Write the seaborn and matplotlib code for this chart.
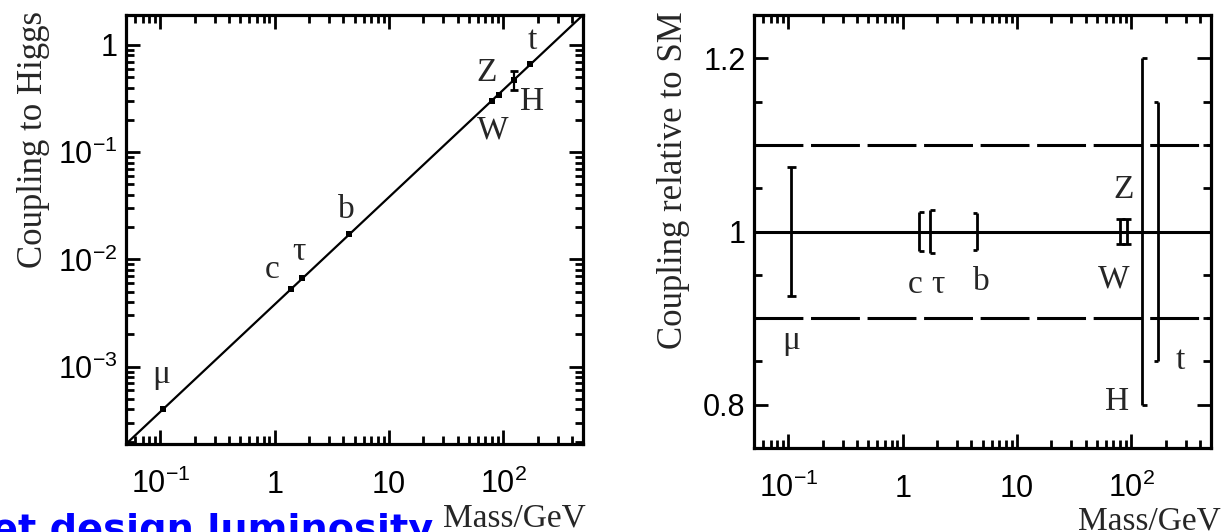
#!/usr/bin/env python3
import numpy as np
import seaborn as sns
import matplotlib.pyplot as plt
from matplotlib.ticker import FixedLocator, LogLocator, MultipleLocator, NullFormatter

# particles, masses (GeV) and couplings
particles = ['μ', 'c', 'τ', 'b', 'W', 'Z', 'H', 't']
masses = [0.106, 1.4, 1.75, 4.5, 80.4, 91.2, 125.0, 173.0]
couplings = [4.0e-4, 5.3e-3, 6.7e-3, 0.0171, 0.30, 0.34, 0.47, 0.66]
higgs_band = [0.38, 0.57]
line_mass = [0.05, 500.0]
line_coupling = [1.9e-4, 1.9]

# right panel: coupling relative to SM with its uncertainty
rel_value = [1.0, 1.0, 1.0, 1.0, 1.0, 1.0, 1.0, 1.0]
rel_error = [0.075, 0.022, 0.025, 0.021, 0.015, 0.015, 0.20, 0.15]
sm_value = 1.0
band_values = [0.9, 1.1]

x_ticks = [0.1, 1, 10, 100]
x_tick_labels = [r'$\mathregular{10^{-1}}$', '1', '10', r'$\mathregular{10^{2}}$']
y_ticks_left = [1e-3, 1e-2, 1e-1, 1]
y_tick_labels_left = [r'$\mathregular{10^{-3}}$', r'$\mathregular{10^{-2}}$',
                      r'$\mathregular{10^{-1}}$', '1']
y_ticks_right = [0.8, 1.0, 1.2]
y_tick_labels_right = ['0.8', '1', '1.2']

# styling: cap side of each bar, label offsets in pixels
rel_caps = ['both', 'right', 'right', 'left', 'both', 'both', 'right', 'left']
left_offsets = [(-2, 35), (-19, 19), (-3, 26), (-3, 25), (0, -29), (-12, 22), (18, -22), (2, 24)]
right_offsets = [(0, -109), (-4, -53), (8, -53), (4, -50), (-7, -48), (-3, 42), (-25, -170), (22, -129)]

sns.set_theme(style='ticks')
plt.rcParams['font.family'] = ['Liberation Sans', 'DejaVu Sans']
plt.rcParams['mathtext.fontset'] = 'custom'
plt.rcParams['mathtext.rm'] = 'Liberation Sans'
plt.rcParams['mathtext.it'] = 'Liberation Sans'

serif = ['Liberation Serif', 'DejaVu Serif']
W, H = 1224, 532
fig = plt.figure(figsize=(W / 100, H / 100), dpi=100)
ax1 = fig.add_axes([126 / W, 1 - 444 / H, 457 / W, 429 / H])
ax2 = fig.add_axes([754 / W, 1 - 448 / H, 457 / W, 433 / H])


def caps(ax, x, lo, hi, side, f=1.1):
    x0 = x / f if side in ('left', 'both') else x
    x1 = x * f if side in ('right', 'both') else x
    ax.hlines([lo, hi], x0, x1, color='black', lw=2)


def style_axis(ax):
    ax.set_xscale('log')
    ax.set_xlim(0.05, 500)
    ax.xaxis.set_major_locator(FixedLocator(x_ticks))
    ax.xaxis.set_minor_locator(LogLocator(base=10, subs=np.arange(2, 10)))
    ax.xaxis.set_minor_formatter(NullFormatter())
    ax.set_xticklabels(x_tick_labels)
    ax.tick_params(which='both', direction='in', top=True, right=True,
                   width=2, colors='black', labelsize=22)
    ax.tick_params(which='major', length=10)
    ax.tick_params(which='minor', length=5.5)
    ax.tick_params(axis='x', which='major', pad=35)
    ax.tick_params(axis='y', which='major', pad=6)
    for lab in ax.get_xticklabels():
        lab.set_va('baseline')
    for sp in ax.spines.values():
        sp.set_linewidth(2.3)
        sp.set_color('black')
    ax.set_xlabel('')
    ax.set_ylabel('')
    ax.set_facecolor('white')


# left: coupling to Higgs versus mass
ax1.set_xscale('log')
ax1.set_yscale('log')
sns.lineplot(x=line_mass, y=line_coupling, ax=ax1, color='black', lw=1.6)
sns.scatterplot(x=masses, y=couplings, ax=ax1, marker='s', s=16,
                color='black', linewidth=0, zorder=3)
ax1.vlines(masses[6], *higgs_band, color='black', lw=1.6)
caps(ax1, masses[6], *higgs_band, 'both', f=1.08)
ax1.set_ylim(1.9e-4, 1.9)
style_axis(ax1)
ax1.yaxis.set_major_locator(FixedLocator(y_ticks_left))
ax1.yaxis.set_minor_locator(LogLocator(base=10, subs=np.arange(2, 10)))
ax1.yaxis.set_minor_formatter(NullFormatter())
ax1.set_yticklabels(y_tick_labels_left)
for name, m, c, off in zip(particles, masses, couplings, left_offsets):
    ax1.annotate(name, (m, c), xytext=off, textcoords='offset pixels',
                 ha='center', va='center', fontsize=24, family=serif)
ax1.text((34 - 126) / 457, (444 - 140) / 429, 'Coupling to Higgs', transform=ax1.transAxes,
         rotation=90, ha='center', va='center', fontsize=25, family=serif)
ax1.text(1.005, -0.1725, 'Mass/GeV', transform=ax1.transAxes,
         ha='right', va='center', fontsize=24, family=serif)

# right: coupling relative to the SM
ax2.set_xscale('log')
ax2.axhline(sm_value, color='black', lw=2.2)
for v in band_values:
    ax2.axhline(v, color='black', lw=2.2, dashes=(16, 2.5))
lo = [v - e for v, e in zip(rel_value, rel_error)]
hi = [v + e for v, e in zip(rel_value, rel_error)]
ax2.vlines(masses, lo, hi, color='black', lw=2)
for m, a, b, side in zip(masses, lo, hi, rel_caps):
    caps(ax2, m, a, b, side)
ax2.set_ylim(0.75, 1.25)
style_axis(ax2)
ax2.yaxis.set_major_locator(FixedLocator(y_ticks_right))
ax2.yaxis.set_minor_locator(MultipleLocator(0.05))
ax2.set_yticklabels(y_tick_labels_right)
for name, m, v, off in zip(particles, masses, rel_value, right_offsets):
    ax2.annotate(name, (m, v), xytext=off, textcoords='offset pixels',
                 ha='center', va='center', fontsize=24, family=serif)
ax2.text((673 - 754) / 457, (448 - 180) / 433, 'Coupling relative to SM', transform=ax2.transAxes,
         rotation=90, ha='center', va='center', fontsize=25, family=serif)
ax2.text(1.022, -0.17, 'Mass/GeV', transform=ax2.transAxes,
         ha='right', va='center', fontsize=24, family=serif)

fig.text(-8 / W, 1 - 541 / H, 'et design luminosity', color='#0000ff',
         fontsize=27.5, fontweight='bold', family=['DejaVu Sans'], va='baseline', ha='left')

fig.savefig('out.png', dpi=100, facecolor='white')
